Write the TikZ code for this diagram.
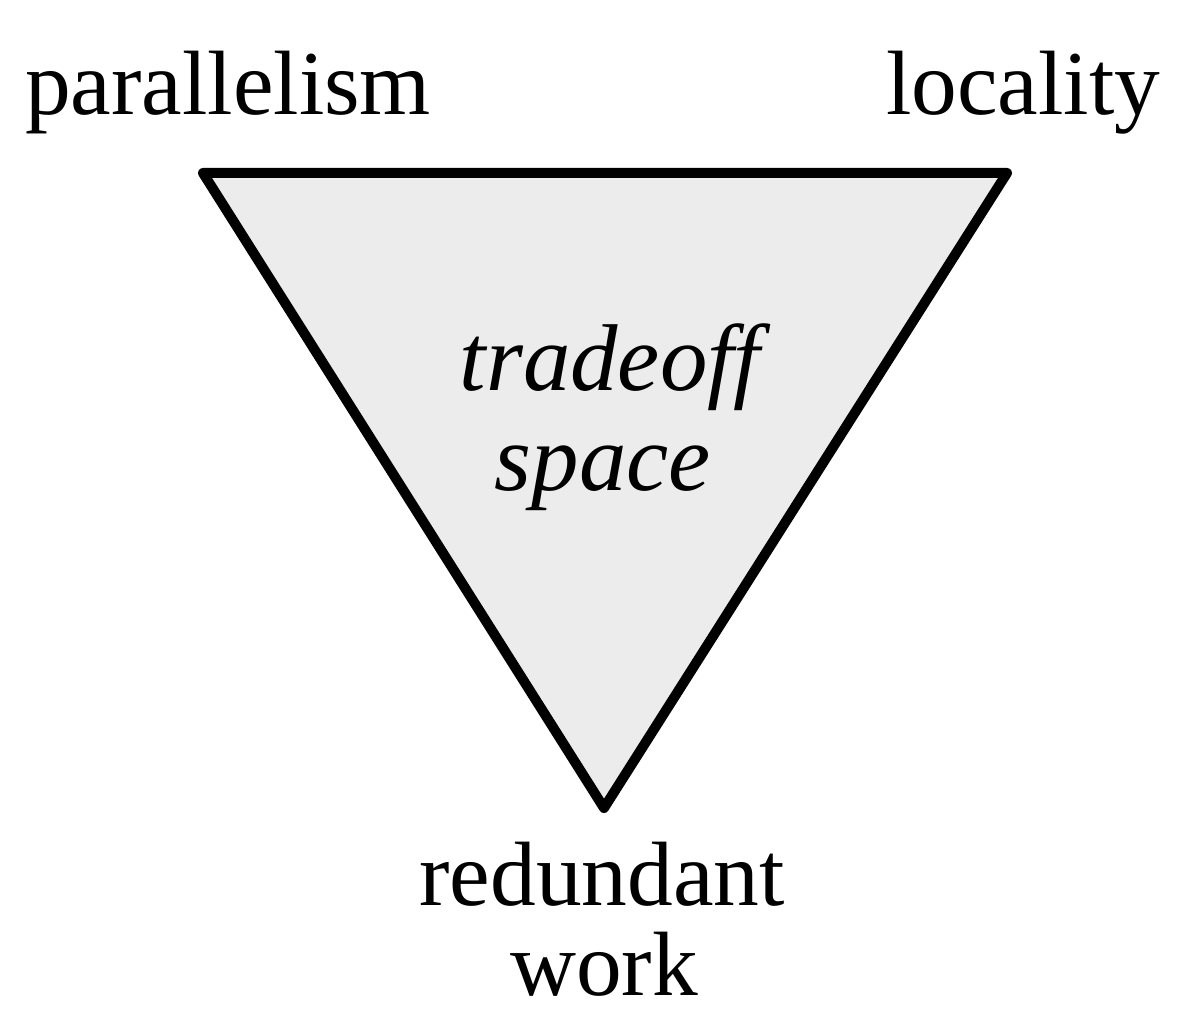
\documentclass[tikz,border=0pt]{standalone}
\usepackage{fontspec}
\setmainfont{Liberation Serif}
\begin{document}
\begin{tikzpicture}[x=0.02cm,y=-0.02cm,
  lbl/.style={font=\fontsize{52}{60}\selectfont, anchor=base, inner sep=0pt},
  ilbl/.style={font=\fontsize{54}{60}\selectfont\itshape, anchor=base, inner sep=0pt},
  tri/.style={draw=black, line width=0.2cm, line join=round, fill=gray!15}]
\useasboundingbox (0,0) rectangle (1200,1027);
\coordinate (tl) at (203,173);
\coordinate (tr) at (1007,173);
\coordinate (bt) at (604,808);
\draw[tri] (tl) -- (tr) -- (bt) -- cycle;
\node[lbl] (par) at (228,115) {parallelism};
\node[lbl] (loc) at (1023,115) {locality};
\node[lbl] (red) at (602,905) {redundant};
\node[lbl] (wrk) at (604,995) {work};
\node[ilbl] (trd) at (610,390) {tradeoff};
\node[ilbl] (spc) at (603,490) {space};
\end{tikzpicture}
\end{document}
